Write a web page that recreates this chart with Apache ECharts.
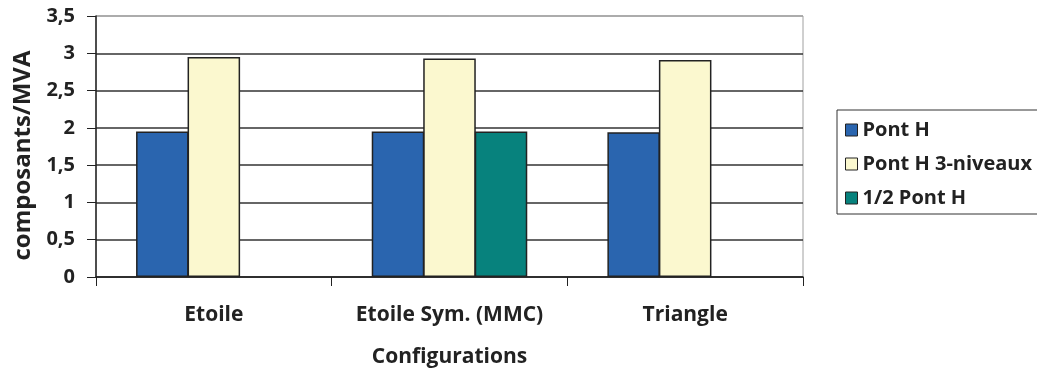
<!DOCTYPE html>
<html>
<head>
<meta charset="utf-8">
<script src="https://cdn.jsdelivr.net/npm/echarts@6/dist/echarts.min.js"></script>
<style>
html,body{margin:0;padding:0;background:#fff;}
#c{width:1037px;height:373px;}
</style>
</head>
<body>
<div id="c"></div>
<script>
const categories = ['Etoile', 'Etoile Sym. (MMC)', 'Triangle'];
const seriesNames = ['Pont H', 'Pont H 3-niveaux', '1/2 Pont H'];
const pontH = [1.95, 1.95, 1.94];
const pontH3 = [2.95, 2.93, 2.91];
const demiPontH = [null, 1.95, null];
const yTicks = ['0', '0,5', '1', '1,5', '2', '2,5', '3', '3,5'];
const colors = ['#2a65af', '#fbf8cf', '#07827d'];

const FONT = "'Open Sans', 'Noto Sans', sans-serif";
const chart = echarts.init(document.getElementById('c'), null, {renderer: 'canvas'});
const barBorder = {borderColor: '#222', borderWidth: 1.5};
const option = {
  animation: false,
  textStyle: {fontFamily: FONT},
  grid: {left: 96, right: 234, top: 16, bottom: 96, show: true, borderColor: '#a0a0a0', borderWidth: 1, backgroundColor: 'transparent'},
  legend: {
    orient: 'vertical', left: 837, top: 110,
    data: seriesNames,
    icon: 'rect', itemWidth: 12, itemHeight: 12, itemGap: 14,
    padding: [10, 12, 6, 8],
    borderColor: '#333', borderWidth: 1,
    textStyle: {fontFamily: FONT, fontSize: 20, fontWeight: 'bold', color: '#222'},
    itemStyle: {borderColor: '#222', borderWidth: 1}
  },
  xAxis: {
    type: 'category', data: categories,
    name: 'Configurations', nameLocation: 'middle', nameGap: 70,
    nameTextStyle: {fontFamily: FONT, fontSize: 21, fontWeight: 'bold', color: '#222'},
    axisLine: {lineStyle: {color: '#222', width: 1.5}},
    axisTick: {show: true, length: 9, lineStyle: {color: '#222', width: 1}},
    axisLabel: {interval: 0, hideOverlap: false, margin: 28, fontFamily: FONT, fontSize: 21, fontWeight: 'bold', color: '#222'}
  },
  yAxis: {
    type: 'value', min: 0, max: 3.5, interval: 0.5,
    name: 'composants/MVA', nameLocation: 'middle', nameGap: 58,
    nameTextStyle: {fontFamily: FONT, fontSize: 24, fontWeight: 'bold', color: '#222', padding: [0, 18, 0, 0]},
    axisLine: {show: true, lineStyle: {color: '#222', width: 1.5}},
    axisTick: {show: true, length: 9, lineStyle: {color: '#222', width: 1}},
    axisLabel: {margin: 21, fontFamily: FONT, fontSize: 20, fontWeight: 'bold', color: '#222',
      formatter: function (v) { return yTicks[Math.round(v / 0.5)]; }},
    splitLine: {show: true, lineStyle: {color: ['#333', '#333', '#333', '#333', '#333', '#333', '#333', '#a0a0a0'], width: 1.5}}
  },
  series: [
    {name: seriesNames[0], type: 'bar', data: pontH, barGap: '-2%', barCategoryGap: '34%', itemStyle: Object.assign({color: colors[0]}, barBorder)},
    {name: seriesNames[1], type: 'bar', data: pontH3, barGap: '-2%', barCategoryGap: '34%', itemStyle: Object.assign({color: colors[1]}, barBorder)},
    {name: seriesNames[2], type: 'bar', data: demiPontH, barGap: '-2%', barCategoryGap: '34%', itemStyle: Object.assign({color: colors[2]}, barBorder)}
  ]
};
chart.setOption(option);
</script>
</body>
</html>
